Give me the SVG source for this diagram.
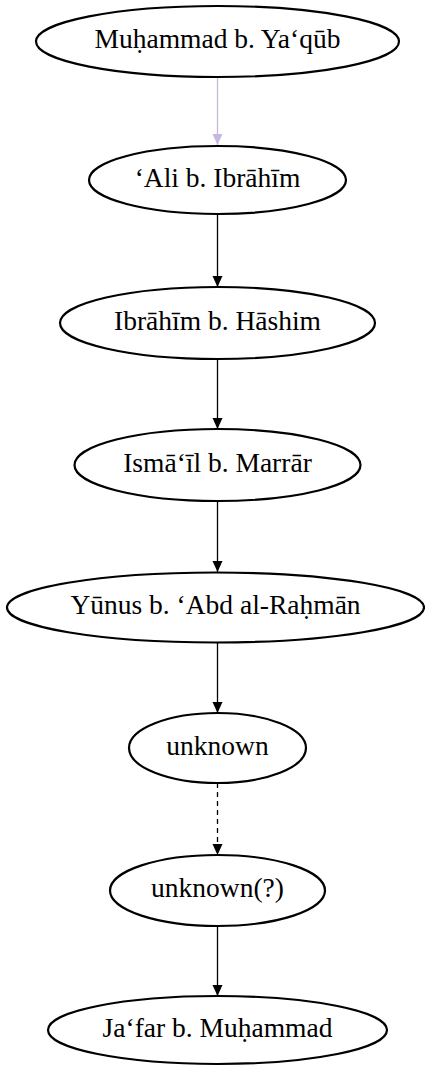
<svg xmlns="http://www.w3.org/2000/svg" width="425" height="1068" viewBox="0 0 425 1068">
<style>
.n ellipse{fill:#fff;stroke:#000;stroke-width:2.2}
.n text{font-family:"Liberation Serif","DejaVu Serif",serif;font-size:27.5px;text-anchor:middle;fill:#000}
.e{stroke:#000;stroke-width:1.3;fill:none}
</style>
<defs>
<marker id="ah" markerWidth="12" markerHeight="12" viewBox="0 0 12 12" refX="11" refY="6" markerUnits="userSpaceOnUse" orient="auto"><path d="M0,1 L11,6 L0,11 Z" fill="#000"/></marker>
<marker id="ahl" markerWidth="12" markerHeight="12" viewBox="0 0 12 12" refX="11" refY="6" markerUnits="userSpaceOnUse" orient="auto"><path d="M0,1 L11,6 L0,11 Z" fill="#c5b9df"/></marker>
</defs>
<g id="connectors">
<line class="e" x1="217.5" y1="77" x2="217.5" y2="145" style="stroke:#c5b9df" marker-end="url(#ahl)"/>
<line class="e" x1="217.5" y1="214" x2="217.5" y2="287" marker-end="url(#ah)"/>
<line class="e" x1="217.5" y1="359" x2="217.5" y2="429" marker-end="url(#ah)"/>
<line class="e" x1="217.5" y1="501" x2="217.5" y2="572" marker-end="url(#ah)"/>
<line class="e" x1="217.5" y1="642" x2="217.5" y2="713" marker-end="url(#ah)"/>
<line class="e" x1="217.5" y1="783" x2="217.5" y2="855" stroke-dasharray="5,4" marker-end="url(#ah)"/>
<line class="e" x1="217.5" y1="926" x2="217.5" y2="996" marker-end="url(#ah)"/>
</g>
<g id="n1" class="n"><ellipse cx="217.5" cy="41.5" rx="181.5" ry="35.5"/><text x="217.5" y="48">Muḥammad b. Ya‘qūb</text></g>
<g id="n2" class="n"><ellipse cx="217.5" cy="180" rx="128.5" ry="34"/><text x="217.5" y="186.5">‘Ali b. Ibrāhīm</text></g>
<g id="n3" class="n"><ellipse cx="217.5" cy="323" rx="157.5" ry="36"/><text x="217.5" y="329.5">Ibrāhīm b. Hāshim</text></g>
<g id="n4" class="n"><ellipse cx="217.5" cy="465" rx="143" ry="36"/><text x="217.5" y="471.5">Ismā‘īl b. Marrār</text></g>
<g id="n5" class="n"><ellipse cx="215.5" cy="607.5" rx="208.5" ry="35"/><text x="215.5" y="614">Yūnus b. ‘Abd al-Raḥmān</text></g>
<g id="n6" class="n"><ellipse cx="217.5" cy="748" rx="88.5" ry="35"/><text x="217.5" y="754.5">unknown</text></g>
<g id="n7" class="n"><ellipse cx="217.5" cy="890.5" rx="107.5" ry="35.5"/><text x="217.5" y="897">unknown(?)</text></g>
<g id="n8" class="n"><ellipse cx="217.5" cy="1030" rx="169.5" ry="34"/><text x="217.5" y="1036.5">Ja‘far b. Muḥammad</text></g>
</svg>
